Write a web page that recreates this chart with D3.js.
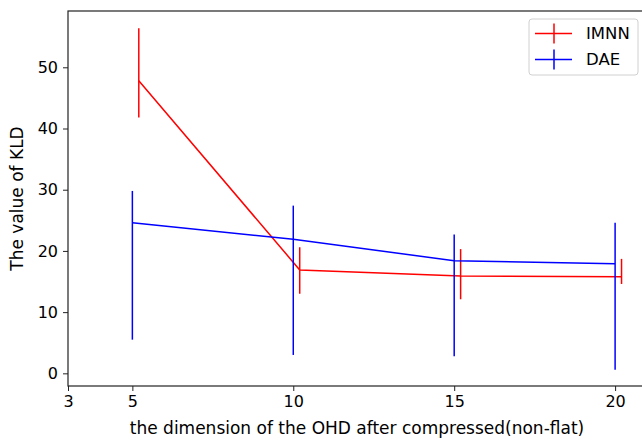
<!DOCTYPE html>
<html>
<head>
<meta charset="utf-8">
<script src="https://cdn.jsdelivr.net/npm/d3@7"></script>
<style>
  body { margin: 0; background: #fff; }
  svg { display: block; font-family: "DejaVu Sans", sans-serif; }
</style>
</head>
<body>
<div id="chart"></div>
<script>
// dati
const dims = [5, 10, 15, 20];
const xTicks = [3, 5, 10, 15, 20];
const yTicks = [0, 10, 20, 30, 40, 50];

const imnnX = [5.2, 10.2, 15.2, 20.2];
const imnnMean = [47.8, 16.9, 15.9, 15.8];
const imnnLow = [41.8, 13.0, 12.1, 14.6];
const imnnHigh = [56.4, 20.6, 20.3, 18.7];

const daeMean = [24.6, 21.9, 18.4, 17.9];
const daeLow = [5.5, 3.0, 2.8, 0.6];
const daeHigh = [29.8, 27.4, 22.7, 24.6];

const series = [
  { name: "IMNN", color: "#ff0000", x: imnnX, mean: imnnMean, low: imnnLow, high: imnnHigh },
  { name: "DAE", color: "#0000ff", x: dims, mean: daeMean, low: daeLow, high: daeHigh }
];

const width = 642, height = 441;
const margin = { top: 11, right: -4, bottom: 55, left: 68 };
const innerW = width - margin.left - margin.right;
const innerH = height - margin.top - margin.bottom;

const svg = d3.select("#chart").append("svg")
  .attr("width", width)
  .attr("height", height);

const g = svg.append("g")
  .attr("transform", `translate(${margin.left},${margin.top})`);

const x = d3.scaleLinear().domain([3, 20.96]).range([0, innerW]);
const y = d3.scaleLinear().domain([-2.07, 59.2]).range([innerH, 0]);

// assi
const xAxis = g.append("g")
  .attr("transform", `translate(0,${innerH})`)
  .call(d3.axisBottom(x).tickValues(xTicks).tickSize(5).tickPadding(5));
const yAxis = g.append("g")
  .call(d3.axisLeft(y).tickValues(yTicks).tickSize(5).tickPadding(5));

[xAxis, yAxis].forEach(a => {
  a.select(".domain").remove();
  a.selectAll("text").attr("font-size", "16px").attr("fill", "#000")
    .style("font-family", "DejaVu Sans, sans-serif");
  a.selectAll("line").attr("stroke", "#222").attr("stroke-width", 1);
});

// cornice
g.append("rect")
  .attr("width", innerW)
  .attr("height", innerH)
  .attr("fill", "none")
  .attr("stroke", "#222")
  .attr("stroke-width", 1.2);

// serie con barre di errore
const line = d3.line().x(d => x(d[0])).y(d => y(d[1]));
series.forEach(s => {
  const pts = s.x.map((v, i) => [v, s.mean[i]]);
  g.append("path")
    .datum(pts)
    .attr("d", line)
    .attr("fill", "none")
    .attr("stroke", s.color)
    .attr("stroke-width", 1.5);
  g.selectAll(null)
    .data(s.x.map((v, i) => ({ x: v, lo: s.low[i], hi: s.high[i] })))
    .enter().append("line")
    .attr("x1", d => x(d.x))
    .attr("x2", d => x(d.x))
    .attr("y1", d => y(d.lo))
    .attr("y2", d => y(d.hi))
    .attr("stroke", s.color)
    .attr("stroke-width", 1.5);
});

// legenda
const legend = svg.append("g").attr("transform", "translate(529,19)");
legend.append("rect")
  .attr("width", 109)
  .attr("height", 56)
  .attr("rx", 3)
  .attr("fill", "#fff")
  .attr("fill-opacity", 0.8)
  .attr("stroke", "#d0d0d0")
  .attr("stroke-width", 1);
series.forEach((s, i) => {
  const ly = 14.5 + i * 26;
  legend.append("line")
    .attr("x1", 6).attr("x2", 43).attr("y1", ly).attr("y2", ly)
    .attr("stroke", s.color).attr("stroke-width", 1.5);
  legend.append("line")
    .attr("x1", 25).attr("x2", 25).attr("y1", ly - 10).attr("y2", ly + 10)
    .attr("stroke", s.color).attr("stroke-width", 1.5);
  legend.append("text")
    .attr("x", 57).attr("y", ly)
    .attr("dy", "0.36em")
    .attr("font-size", "16.5px")
    .text(s.name);
});

// etichette assi
svg.append("text")
  .attr("x", margin.left + innerW / 2)
  .attr("y", 434)
  .attr("text-anchor", "middle")
  .attr("font-size", "17px")
  .text("the dimension of the OHD after compressed(non-flat)");

svg.append("text")
  .attr("transform", `translate(23,${margin.top + innerH / 2}) rotate(-90)`)
  .attr("text-anchor", "middle")
  .attr("font-size", "17px")
  .text("The value of KLD");
</script>
</body>
</html>
